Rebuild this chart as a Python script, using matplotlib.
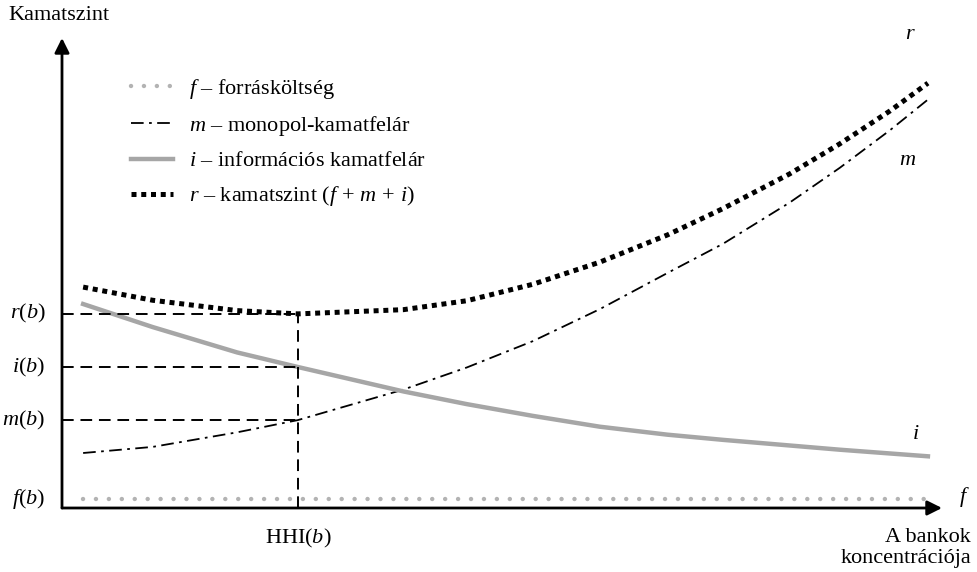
import matplotlib
matplotlib.use("Agg")
import matplotlib.pyplot as plt

plt.rcParams['font.family'] = ['Liberation Serif', 'DejaVu Serif']
plt.rcParams['mathtext.fontset'] = 'custom'
plt.rcParams['mathtext.rm'] = 'Liberation Serif'
plt.rcParams['mathtext.it'] = 'Liberation Serif:italic'
plt.rcParams['mathtext.bf'] = 'Liberation Serif:bold'

# ---- data (x = bank concentration, y = interest level) ----
conc = [2.4, 10.3, 19.9, 26.8, 38.8, 46.0, 53.5, 61.1, 68.8, 75.1, 82.7, 88.4, 94.1, 98.4]
r_vals = [47.0, 44.2, 42.0, 41.3, 42.2, 44.1, 47.6, 52.3, 58.1, 63.7, 71.1, 77.5, 84.5, 90.4]
m_vals = [11.7, 13.0, 16.1, 18.7, 25.2, 29.9, 35.5, 42.3, 50.0, 56.2, 65.0, 72.4, 80.4, 86.9]
i_vals = [43.4, 38.5, 33.1, 30.0, 24.8, 22.1, 19.6, 17.3, 15.6, 14.5, 13.3, 12.4, 11.6, 11.0]
f_vals = [1.9] * len(conc)
hhi_idx = 3  # HHI(b) point

legend_labels = [r'$f$ – forrásköltség',
                 r'$m$ – monopol-kamatfelár',
                 r'$i$ – információs kamatfelár',
                 r'$r$ – kamatszint $(f\,+\,m\,+\,i)$']

W, H = 977, 572
fig = plt.figure(figsize=(W / 100, H / 100), dpi=100)
ax = fig.add_axes([62 / W, (H - 508) / H, 880 / W, 470 / H])
ax.set_xlim(0, 100)
ax.set_ylim(0, 100)
for s in ax.spines.values():
    s.set_visible(False)
ax.set_xticks([])
ax.set_yticks([])

FS = 16
gray = '#a6a6a6'

lf, = ax.plot(conc, f_vals, color='#b3b3b3', lw=3.2, linestyle=(0, (0.01, 2.9)),
              dash_capstyle='round', clip_on=False)
lm, = ax.plot(conc, m_vals, color='black', lw=1.3, linestyle=(0, (7, 3, 1.5, 3)), clip_on=False)
li, = ax.plot(conc, i_vals, color=gray, lw=3.2, clip_on=False)
lr, = ax.plot(conc, r_vals, color='black', lw=3.6, linestyle=(0, (1, 0.95)), clip_on=False)

# reference dashed lines at HHI(b)
hx = conc[hhi_idx]
dash = (0, (6, 3.5))
for yv in (r_vals[hhi_idx], i_vals[hhi_idx], m_vals[hhi_idx]):
    ax.plot([0, hx], [yv, yv], color='black', lw=1.4, linestyle=dash)
ax.plot([hx, hx], [0, r_vals[hhi_idx]], color='black', lw=1.4, linestyle=dash)

# axes with arrows
arrow = dict(arrowstyle='-|>', lw=2, color='black', mutation_scale=22, shrinkA=0, shrinkB=0)
ax.annotate('', xy=(0, 1), xytext=(0, 0), xycoords='axes fraction', arrowprops=arrow)
ax.annotate('', xy=(1, 0), xytext=(0, 0), xycoords='axes fraction', arrowprops=arrow)

# left labels
for txt, yv in ((r'$r(b)$', r_vals[hhi_idx]), (r'$i(b)$', i_vals[hhi_idx]),
                (r'$m(b)$', m_vals[hhi_idx]), (r'$f(b)$', f_vals[hhi_idx])):
    ax.annotate(txt, xy=(0, yv), xytext=(-12, 0), textcoords='offset points',
                ha='right', va='center', fontsize=FS, annotation_clip=False)

ax.annotate(r'HHI$(b)$', xy=(hx, 0), xytext=(0, -22), textcoords='offset points',
            ha='center', va='center', fontsize=FS, annotation_clip=False)

# curve end labels
ax.annotate(r'$r$', xy=(conc[-1], r_vals[-1]), xytext=(-13, 35), textcoords='offset points',
            ha='center', va='center', fontsize=FS, annotation_clip=False)
ax.annotate(r'$m$', xy=(conc[-1], m_vals[-1]), xytext=(-15, -44), textcoords='offset points',
            ha='center', va='center', fontsize=FS, annotation_clip=False)
ax.annotate(r'$i$', xy=(conc[-1], i_vals[-1]), xytext=(-9, 16), textcoords='offset points',
            ha='center', va='center', fontsize=FS, annotation_clip=False)
ax.annotate(r'$f$', xy=(1, 0), xycoords='axes fraction', xytext=(16, 8), textcoords='offset points',
            ha='center', va='center', fontsize=FS, annotation_clip=False)

fig.text(8 / W, 1 - 15 / H, 'Kamatszint', ha='left', va='center', fontsize=FS)
fig.text(971 / W, 1 - 548 / H, 'A bankok\nkoncentrációja', ha='right', va='center',
         fontsize=FS, linespacing=1.15)

ax.legend([lf, lm, li, lr], legend_labels, loc='upper left',
          bbox_to_anchor=(58 / 880, 1 - 28 / 470), frameon=False, fontsize=FS,
          handlelength=1.9, handletextpad=0.7, labelspacing=0.58, borderpad=0)

fig.savefig('out.png', dpi=100)
